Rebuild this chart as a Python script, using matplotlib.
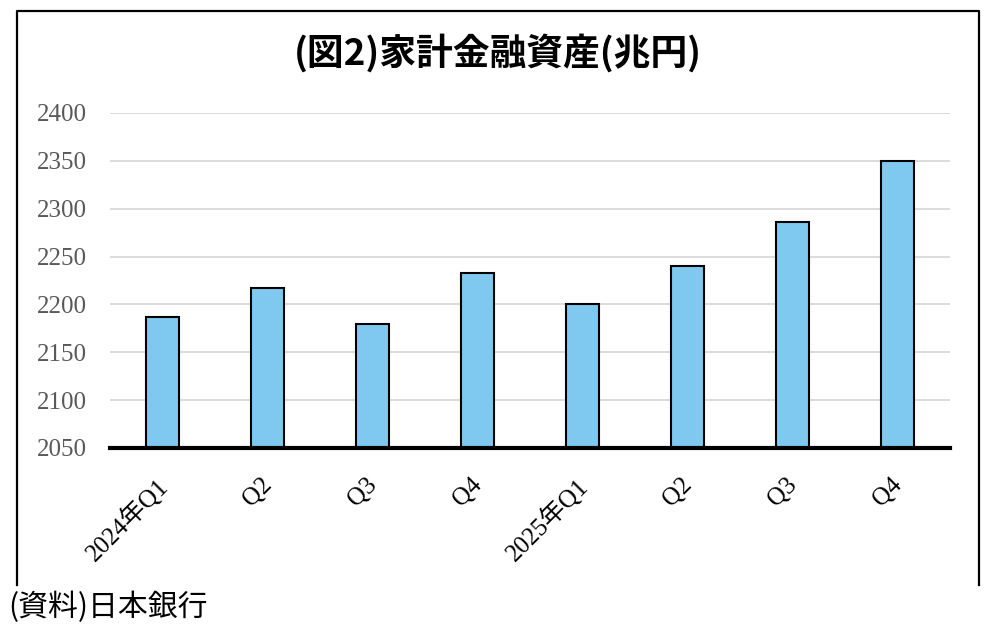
import matplotlib
matplotlib.use("Agg")
import matplotlib.pyplot as plt
from matplotlib.lines import Line2D
from matplotlib.transforms import ScaledTranslation

categories = ["2024年Q1", "Q2", "Q3", "Q4", "2025年Q1", "Q2", "Q3", "Q4"]
values = [2187, 2217, 2180, 2233, 2200, 2240, 2286, 2350]
yticks = [2050, 2100, 2150, 2200, 2250, 2300, 2350, 2400]
title = "(図2)家計金融資産(兆円)"
source = "(資料)日本銀行"

serif = ["Liberation Serif", "Noto Sans CJK JP"]

fig = plt.figure(figsize=(10, 6.33), dpi=100)
ax = fig.add_axes([0.11, 0.2923, 0.84, 0.5292])

x = list(range(len(categories)))
ax.bar(x, values, width=0.32, color="#7fc9f0", edgecolor="black", linewidth=1.5, zorder=3)
ax.set_ylim(2050, 2400)
ax.set_xlim(-0.5, len(categories) - 0.5)
ax.set_yticks(yticks)
ax.set_yticklabels([str(t) for t in yticks], family=serif, fontsize=18, color="#595959")
ax.set_xticks(x)
ax.set_xticklabels(categories, family=serif, fontsize=18, color="black",
                   rotation=45, ha="right", va="top", rotation_mode="anchor")
ax.tick_params(axis="both", length=0)
ax.tick_params(axis="y", pad=17)
ax.tick_params(axis="x", pad=18.5)
shift = ScaledTranslation(-7 / 100, 0, fig.dpi_scale_trans)
for lab in ax.get_xticklabels():
    lab.set_transform(lab.get_transform() + shift)
ax.grid(axis="y", color="#d9d9d9", linewidth=1.3, zorder=0)
for s in ["left", "right", "top"]:
    ax.spines[s].set_visible(False)
ax.spines["bottom"].set_linewidth(3)
ax.spines["bottom"].set_color("black")
ax.spines["bottom"].set_zorder(4)

fig.text(0.498, 1 - 53 / 633, title, ha="center", va="center", fontsize=26.5, fontweight="bold",
         family=["Noto Sans CJK JP", "DejaVu Sans"])

# frame (three sides)
H = 633.0
W = 1000.0
l, r, t, b = 17 / W, 979 / W, 1 - 11 / H, 1 - 585 / H
fig.add_artist(Line2D([l, l, r, r], [b, t, t, b], transform=fig.transFigure,
                      color="black", linewidth=1.6))

fig.text(0.008, 1 - 607 / H, source, ha="left", va="center", fontsize=21.5,
         family=["Noto Sans CJK JP", "DejaVu Sans"])

fig.savefig("out.png", dpi=100)
